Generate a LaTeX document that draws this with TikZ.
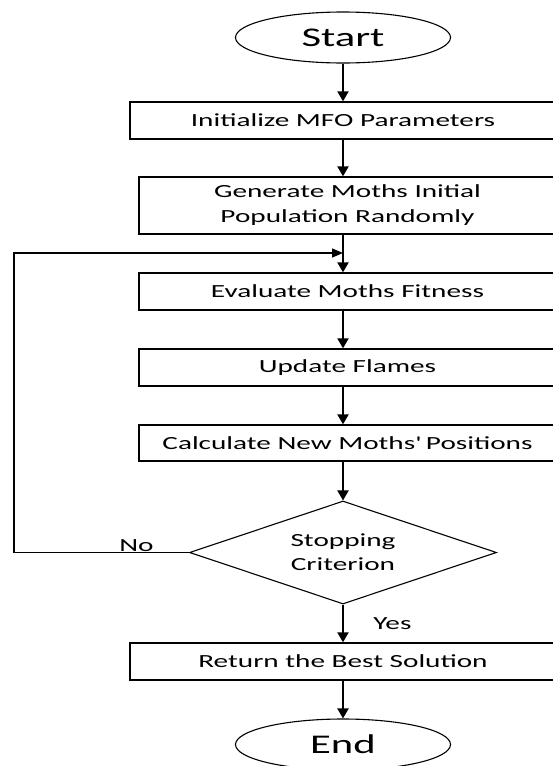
\documentclass[tikz,border=0pt]{standalone}
\usepackage{fontspec}
\setmainfont{Carlito}[FakeStretch=1.58]
\usetikzlibrary{shapes.geometric,arrows.meta}

\begin{document}
\begin{tikzpicture}[x=1pt,y=-1pt,
    box/.style={draw, line width=1.3pt, rectangle, inner sep=0pt, minimum height=37pt, font=\fontsize{18.5}{25}\selectfont, align=center},
    term/.style={draw, line width=1.1pt, ellipse, inner sep=0pt, minimum width=215pt, minimum height=51pt, font=\fontsize{27}{30}\selectfont},
    flow/.style={line width=2pt, -{Triangle[width=11pt,length=10pt]}}]
  \useasboundingbox (0,0) rectangle (552,766);

  \node[term] (start) at (343,37.5) {Start};
  \node[box, minimum width=426pt] (init) at (343,120.5) {Initialize MFO Parameters};
  \node[box, minimum width=417pt, minimum height=57pt] (gen) at (347.5,205.5) {Generate Moths Initial\\Population Randomly};
  \node[box, minimum width=417pt] (eval) at (347.5,291.5) {Evaluate Moths Fitness};
  \node[box, minimum width=417pt] (upd) at (347.5,367.5) {Update Flames};
  \node[box, minimum width=417pt, minimum height=36pt] (calc) at (347.5,443) {Calculate New Moths\textquotesingle{} Positions};
  \node[draw, line width=1.1pt, diamond, aspect=3, inner sep=0pt, minimum width=307pt, minimum height=103pt,
        font=\fontsize{18.5}{24}\selectfont, align=center] (stop) at (343,552.5) {Stopping\\Criterion};
  \node[box, minimum width=426pt] (ret) at (343,661.5) {Return the Best Solution};
  \node[term] (end) at (343,744.5) {End};

  \coordinate (join) at (343,253);

  \draw[flow] (start) -- (init);
  \draw[flow] (init) -- (gen.north -| init);
  \draw[flow] (gen.south -| init) -- (eval.north -| init);
  \draw[flow] (eval.south -| init) -- (upd.north -| init);
  \draw[flow] (upd.south -| init) -- (calc.north -| init);
  \draw[flow] (calc.south -| init) -- (stop);
  \draw[flow] (stop) -- node[right=26pt, font=\fontsize{18.5}{20}\selectfont] (yes) {Yes} (ret);
  \draw[flow] (ret) -- (end);
  \draw[line width=1.5pt, -{Triangle[width=9pt,length=11pt]}] (stop.west) -- node[above=-3pt, pos=0.3, font=\fontsize{18.5}{20}\selectfont] (no) {No} (14,552.5) |- (join);
\end{tikzpicture}
\end{document}
